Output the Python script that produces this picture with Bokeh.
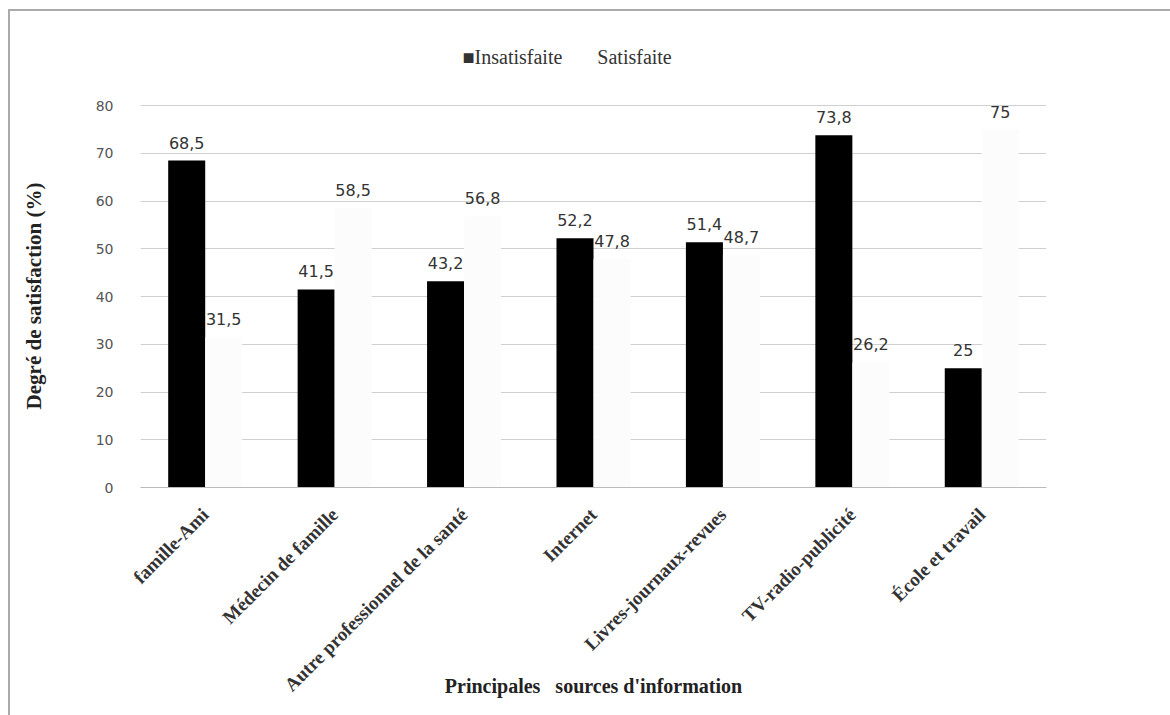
from bokeh.plotting import figure
from bokeh.models import ColumnDataSource, FactorRange, Range1d
from bokeh.transform import dodge
from bokeh.core.properties import value
from bokeh.embed import file_html
from bokeh.resources import INLINE
import math

categories = ["famille-Ami", "Médecin de famille", "Autre professionnel de la santé",
              "Internet", "Livres-journaux-revues", "TV-radio-publicité", "École et travail"]
insatisfaite = [68.5, 41.5, 43.2, 52.2, 51.4, 73.8, 25]
satisfaite = [31.5, 58.5, 56.8, 47.8, 48.7, 26.2, 75]
insat_labels = ["68,5", "41,5", "43,2", "52,2", "51,4", "73,8", "25"]
sat_labels = ["31,5", "58,5", "56,8", "47,8", "48,7", "26,2", "75"]
series_names = ["Insatisfaite", "Satisfaite"]
y_ticks = [0, 10, 20, 30, 40, 50, 60, 70, 80]

src = ColumnDataSource(dict(cat=categories, ins=insatisfaite, sat=satisfaite,
                            il=insat_labels, sl=sat_labels))

NB = "\u00a0"
p = figure(x_range=FactorRange(*categories), y_range=Range1d(0, 80.25),
           width=1170, height=715, output_backend="svg", toolbar_location=None,
           min_border_left=140, min_border_right=124, min_border_top=104, min_border_bottom=228)
p.outline_line_color = None
p.background_fill_color = "white"
p.border_fill_color = None
# thin grey frame lines along the top and left edge of the picture
p.styles = {
    "background-color": "white",
    "background-image": "linear-gradient(#aaaaaa, #aaaaaa), linear-gradient(#aaaaaa, #aaaaaa)",
    "background-position": "9px 9px, 8px 9px",
    "background-size": "1200px 2px, 2px 800px",
    "background-repeat": "no-repeat",
}

bw = 0.286
r1 = p.vbar(x=dodge("cat", -bw / 2, range=p.x_range), top="ins", width=bw, source=src,
            fill_color="black", line_color=None)
r2 = p.vbar(x=dodge("cat", bw / 2, range=p.x_range), top="sat", width=bw, source=src,
            fill_color="#fcfcfc", line_color=None)

lab_font = value("DejaVu Sans")
p.text(x=dodge("cat", -bw / 2, range=p.x_range), y="ins", text="il", source=src,
       text_align="center", text_baseline="bottom", y_offset=-12,
       text_font=lab_font, text_font_size="16px", text_color="#333333")
p.text(x=dodge("cat", bw / 2, range=p.x_range), y="sat", text="sl", source=src,
       text_align="center", text_baseline="bottom", y_offset=-12,
       text_font=lab_font, text_font_size="16px", text_color="#333333")

# legend drawn as the plot title line (black square key + series names)
p.title.text = "\u25a0" + series_names[0] + NB * 7 + series_names[1]
p.title.align = "left"
p.title.offset = 322
p.title.vertical_align = "bottom"
p.title.standoff = 74
p.title.text_font = "Liberation Serif"
p.title.text_font_style = "normal"
p.title.text_font_size = "20px"
p.title.text_color = "#333333"

# grid
p.xgrid.grid_line_color = None
p.ygrid.grid_line_color = "#cfcfcf"
p.ygrid.grid_line_width = 1
p.ygrid.level = "underlay"

# y axis
p.yaxis.ticker = y_ticks
p.yaxis.axis_line_color = None
p.yaxis.major_tick_line_color = None
p.yaxis.minor_tick_line_color = None
p.yaxis.major_label_standoff = 21
p.yaxis.major_label_text_font = "DejaVu Sans"
p.yaxis.major_label_text_font_size = "14px"
p.yaxis.major_label_text_color = "#555555"
p.yaxis.axis_label = "Degré de satisfaction (%)"
p.yaxis.axis_label_text_font = "Liberation Serif"
p.yaxis.axis_label_text_font_style = "bold"
p.yaxis.axis_label_text_font_size = "21px"
p.yaxis.axis_label_text_color = "#222222"
p.yaxis.axis_label_standoff = 47

# x axis
p.xaxis.axis_line_color = "#bbbbbb"
p.xaxis.major_tick_line_color = None
p.xaxis.minor_tick_line_color = None
p.xaxis.major_label_orientation = math.pi / 4
p.xaxis.major_label_standoff = 18
p.xaxis.major_label_text_font = "Liberation Serif"
p.xaxis.major_label_text_font_style = "bold"
p.xaxis.major_label_text_font_size = "19px"
p.xaxis.major_label_text_color = "#333333"
p.xaxis.axis_label = "Principales" + NB * 3 + "sources d'information"
p.xaxis.axis_label_text_font = "Liberation Serif"
p.xaxis.axis_label_text_font_style = "bold"
p.xaxis.axis_label_text_font_size = "20px"
p.xaxis.axis_label_text_color = "#222222"
p.xaxis.axis_label_standoff = -31

open("out.html", "w").write(file_html(p, INLINE))
